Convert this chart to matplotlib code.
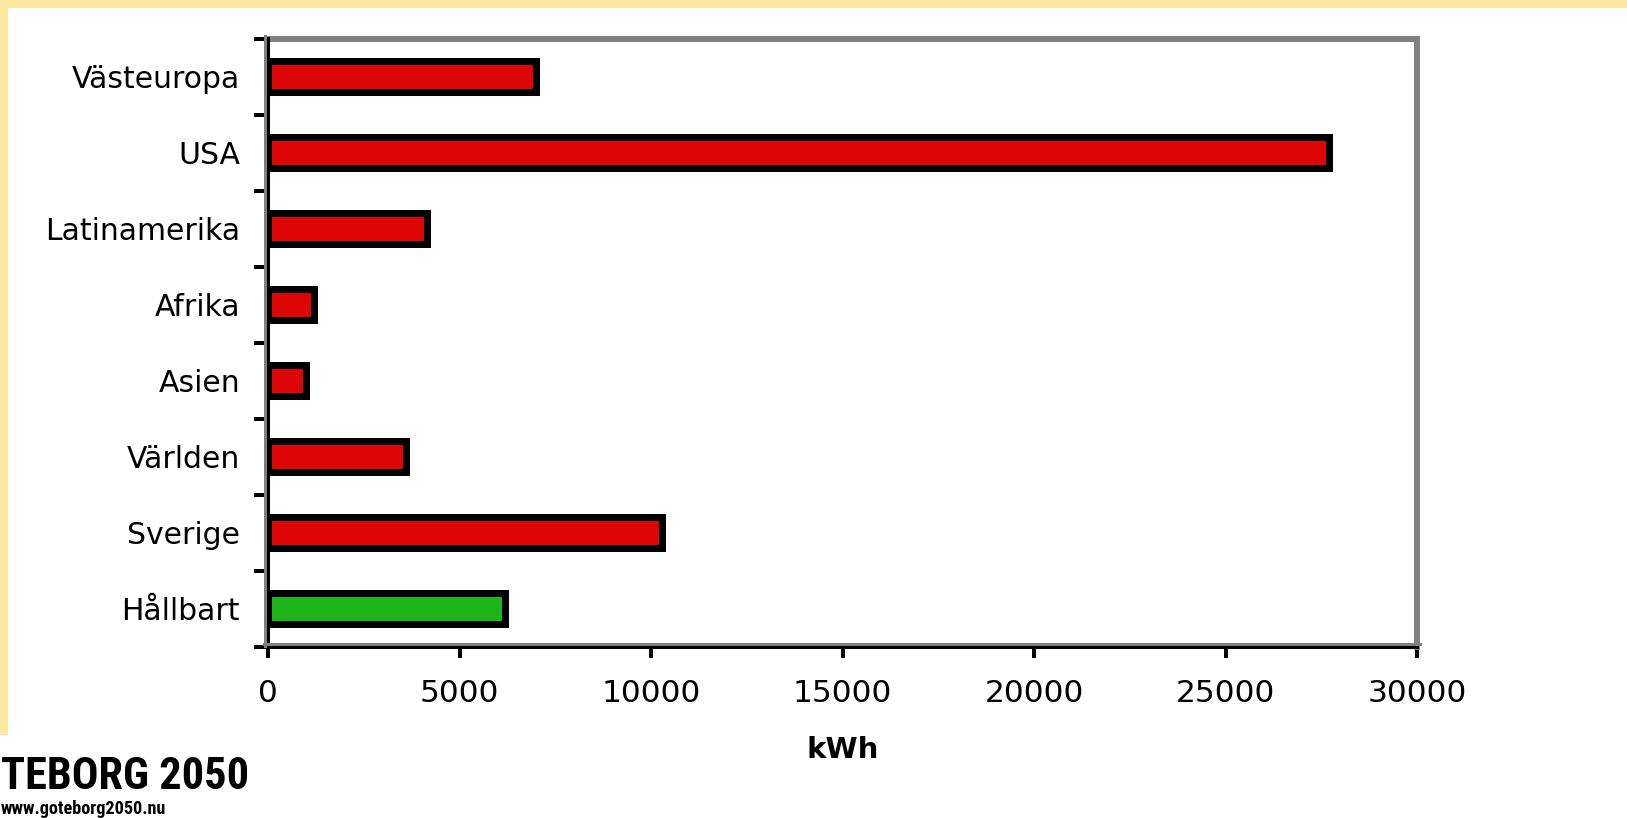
import matplotlib
matplotlib.use("Agg")
import matplotlib.pyplot as plt
from matplotlib.lines import Line2D
from matplotlib.patches import Rectangle
from matplotlib import font_manager

categories = ["Västeuropa", "USA", "Latinamerika", "Afrika", "Asien", "Världen", "Sverige", "Hållbart"]
values = [7000, 27700, 4150, 1200, 1000, 3600, 10300, 6200]
colors = ["#DD0505"] * 7 + ["#1EB518"]
xticks = [0, 5000, 10000, 15000, 20000, 25000, 30000]
xlabel = "kWh"

W, H = 1627, 818
DPI = 100
fig = plt.figure(figsize=(W / DPI, H / DPI), dpi=DPI)
fig.patch.set_facecolor("white")

def px(v):
    return v * 72.0 / DPI

L, R, T, B = 268, 1417, 38.5, 646.5
ax = fig.add_axes([L / W, 1 - B / H, (R - L) / W, (B - T) / H])
ax.set_facecolor("white")

pos = list(range(len(categories)))
ax.barh(pos, values, height=0.41, color=colors, edgecolor="black",
        linewidth=px(7), zorder=2)

ax.set_xlim(0, 30000)
ax.set_ylim(len(categories) - 0.5, -0.5)
ax.set_xticks(xticks)
ax.set_xticklabels([str(t) for t in xticks], fontsize=22.5, color="black")
ax.set_yticks(pos)
ax.set_yticklabels(categories, fontsize=21.5, color="black")
ax.set_yticks([p - 0.5 for p in pos] + [len(categories) - 0.5], minor=True)

ax.tick_params(axis="y", which="major", length=0, pad=px(28))
ax.tick_params(axis="y", which="minor", length=px(14), width=px(4), color="black", direction="out")
ax.tick_params(axis="x", which="major", length=px(11), width=px(4), color="black",
               direction="out", pad=px(22))

for s in ("top", "right"):
    ax.spines[s].set_color("#808080")
    ax.spines[s].set_linewidth(px(6))
for s in ("left", "bottom"):
    ax.spines[s].set_color("black")
    ax.spines[s].set_linewidth(px(4))
    ax.spines[s].set_zorder(5)

ax.set_xlabel(xlabel, fontsize=21, fontweight="bold", labelpad=px(27))

# grey frame lines just outside the black axis lines
fig.add_artist(Line2D([265 / W, 265 / W], [1 - 646 / H, 1 - 36 / H],
                      color="#808080", linewidth=px(3), transform=fig.transFigure, zorder=4))
fig.add_artist(Line2D([264 / W, 1420 / W], [1 - 643.5 / H, 1 - 643.5 / H],
                      color="#808080", linewidth=px(3), transform=fig.transFigure, zorder=4))

# yellow page decorations
yellow = "#FFE9A0"
fig.add_artist(Rectangle((0, 1 - 7.5 / H), 1, 7.5 / H, transform=fig.transFigure,
                         facecolor=yellow, edgecolor="none", zorder=0))
fig.add_artist(Rectangle((0, 1 - 735 / H), 7.5 / W, 735 / H, transform=fig.transFigure,
                         facecolor=yellow, edgecolor="none", zorder=0))

# logo text
names = {f.name for f in font_manager.fontManager.ttflist}
logo_family = "DejaVu Sans"
for cand in ["Roboto Condensed", "Liberation Sans Narrow", "Open Sans Condensed",
             "Noto Sans Condensed", "DejaVu Sans Condensed", "Roboto"]:
    if cand in names:
        logo_family = cand
        break
renderer = fig.canvas.get_renderer()
logo = fig.text(1 / W, 1 - 777 / H, "TEBORG 2050", ha="left", va="center",
                fontsize=40, fontweight="bold", family=[logo_family],
                color="black")
w = logo.get_window_extent(renderer).width
logo.set_fontsize(40 * 248.0 / w)
url = fig.text(1 / W, 1 - 817.5 / H, "www.goteborg2050.nu", ha="left", va="bottom",
               fontsize=10, fontweight="bold", family=[logo_family], color="black")
w2 = url.get_window_extent(renderer).width
url.set_fontsize(10 * 165.0 / w2)

fig.savefig("out.png", dpi=DPI, facecolor="white")
